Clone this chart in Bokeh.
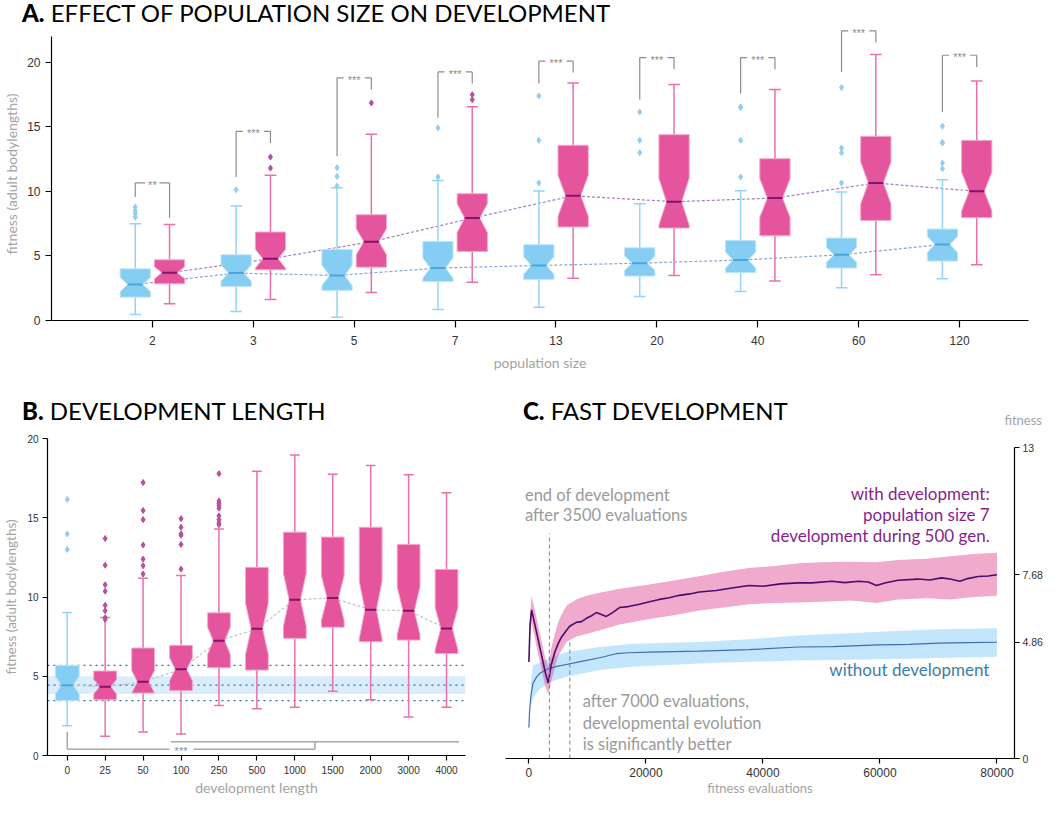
from bokeh.plotting import figure
from bokeh.models import Range1d, FixedTicker, Span, BoxAnnotation, Div
from bokeh.layouts import column, row
from bokeh.embed import file_html
from bokeh.resources import INLINE
from bokeh.core.properties import value

FONT = "Lato"
TICKFONT = "Liberation Sans"

# ---------------- Panel A data ----------------
pop_sizes = ["2", "3", "5", "7", "13", "20", "40", "60", "120"]
a_blue_wlo = [0.47, 0.70, 0.26, 0.85, 1.03, 1.86, 2.25, 2.53, 3.23]
a_blue_q1 = [1.81, 2.64, 2.33, 3.02, 3.18, 3.44, 3.70, 4.06, 4.60]
a_blue_med = [2.79, 3.67, 3.49, 4.06, 4.26, 4.44, 4.68, 5.09, 5.89]
a_blue_q3 = [4.00, 5.09, 5.50, 6.12, 5.87, 5.63, 6.20, 6.38, 7.08]
a_blue_whi = [7.49, 8.86, 10.28, 10.85, 10.03, 9.04, 10.05, 9.95, 10.90]
a_blue_out = [[8.00, 8.27, 8.48, 8.79], [10.13], [10.41, 11.16, 11.83], [11.11, 14.91],
              [10.65, 13.95, 17.39], [13.00, 13.95, 16.15], [11.11, 13.95, 16.49, 16.54],
              [10.65, 13.00, 13.36, 18.04], [11.76, 12.20, 13.75, 13.80, 15.04]]
a_pink_wlo = [1.29, 1.63, 2.17, 2.97, 3.28, 3.49, 3.05, 3.54, 4.32]
a_pink_q1 = [2.84, 3.93, 4.13, 5.35, 7.24, 7.16, 6.56, 7.75, 7.96]
a_pink_med = [3.70, 4.78, 6.10, 7.93, 9.66, 9.20, 9.48, 10.65, 10.00]
a_pink_q3 = [4.70, 6.85, 8.19, 9.82, 13.57, 14.39, 12.53, 14.26, 13.95]
a_pink_whi = [7.44, 11.24, 14.42, 16.56, 18.40, 18.27, 17.88, 20.59, 18.55]
a_pink_out = [[], [11.80, 12.66], [16.85], [17.10, 17.49], [], [], [], [], []]
a_sig_labels = ["**", "***", "***", "***", "***", "***", "***", "***", "***"]
a_sig_height = [10.65, 14.65, 18.79, 19.25, 20.08, 20.36, 20.36, 22.43, 20.54]
a_sig_left_end = [9.56, 11.11, 12.71, 15.71, 18.35, 17.10, 17.57, 19.25, 16.15]
a_sig_right_end = [7.96, 13.75, 17.88, 18.35, 19.20, 19.46, 19.46, 21.52, 19.64]

# ---------------- Panel B data ----------------
dev_lengths = ["0", "25", "50", "100", "250", "500", "1000", "1500", "2000", "3000", "4000"]
b_wlo = [1.87, 1.22, 1.49, 1.35, 3.15, 2.95, 3.05, 4.05, 3.51, 2.43, 3.05]
b_q1 = [3.46, 3.51, 3.94, 4.09, 5.54, 5.39, 7.39, 8.09, 7.18, 7.28, 6.43]
b_med = [4.44, 4.34, 4.65, 5.44, 7.24, 7.99, 9.83, 9.94, 9.19, 9.13, 8.01]
b_q3 = [5.68, 5.33, 6.78, 6.95, 9.00, 11.87, 14.09, 13.78, 14.40, 13.32, 11.74]
b_whi = [9.02, 8.71, 11.18, 11.35, 14.29, 17.93, 18.96, 17.74, 18.30, 17.72, 16.58]
b_out = [[13.00, 13.98, 16.16],
         [8.59, 8.69, 9.13, 9.48, 10.37, 10.77, 12.01, 13.69],
         [11.45, 11.97, 12.39, 13.28, 14.88, 15.46, 17.22],
         [11.76, 13.32, 13.90, 13.98, 14.40, 14.94],
         [14.56, 14.67, 14.88, 15.12, 15.60, 15.77, 15.91, 16.06, 17.78],
         [], [], [], [], [], []]
b_sig_label = "***"
b_sig_low_y = 0.39
b_sig_start_y = 1.49
b_sig_high_y = 0.87
b_sig_mid_x = 6.53
b_sig_upper_from = 2.73
b_sig_upper_to = 10.33
b_sig_text_x = 3.0

# ---------------- Panel C data ----------------
c_dev_x = [0, 200, 460, 1200, 2000, 2800, 3300, 3800, 4430, 5000, 5560, 6400, 6980, 8100, 9000,
           9820, 10800, 11520, 12400, 13230, 14300, 15490, 17000, 18900, 20600, 22300, 24000,
           25700, 27500, 29100, 32000, 34700, 37600, 40000, 43000, 46100, 48400, 51800, 54000,
           56300, 58000, 59400, 61000, 63100, 66500, 68500, 70500, 72000, 73650, 75000, 76800,
           78500, 80000]
c_dev_mean = [4.04, 5.60, 6.21, 5.40, 4.50, 3.60, 3.15, 3.90, 4.45, 4.80, 5.07, 5.35, 5.53, 5.69, 5.72,
              5.86, 5.98, 6.10, 6.02, 5.94, 6.10, 6.31, 6.35, 6.45, 6.55, 6.65, 6.72,
              6.82, 6.88, 6.96, 7.02, 7.13, 7.23, 7.20, 7.30, 7.34, 7.34, 7.41, 7.35,
              7.41, 7.38, 7.23, 7.35, 7.45, 7.50, 7.46, 7.55, 7.50, 7.41, 7.52, 7.61,
              7.63, 7.68]
c_dev_band_x = [0, 200, 460, 1200, 2000, 2800, 3300, 3800, 4430, 5000, 5560, 6400, 8100, 9820,
                12100, 15490, 20600, 25000, 29100, 33000, 37600, 42000, 46100, 50000, 55000,
                59400, 63100, 68000, 72000, 76000, 80000]
c_dev_upper = [4.30, 6.00, 6.80, 6.00, 5.10, 4.20, 3.80, 4.60, 5.20, 5.70, 6.00, 6.39, 6.65, 6.80,
               6.93, 7.10, 7.27, 7.45, 7.62, 7.80, 7.96, 8.05, 8.16, 8.20, 8.22,
               8.20, 8.30, 8.35, 8.45, 8.55, 8.60]
c_dev_lower = [3.80, 5.20, 5.70, 4.80, 3.90, 3.00, 2.70, 3.20, 3.80, 4.30, 4.50, 4.87, 5.10, 5.20,
               5.36, 5.60, 5.83, 6.00, 6.19, 6.30, 6.45, 6.50, 6.52, 6.55, 6.60,
               6.50, 6.65, 6.70, 6.65, 6.75, 6.80]
c_nodev_x = [0, 100, 300, 700, 1300, 1870, 2700, 3570, 5000, 6400, 9200, 12100, 14900, 17000,
             20600, 29100, 37600, 46100, 52000, 59700, 65000, 70000, 75000, 80000]
c_nodev_mean = [1.29, 1.90, 2.53, 3.15, 3.40, 3.56, 3.68, 3.77, 3.86, 3.93, 4.07, 4.21, 4.38, 4.42,
                4.45, 4.49, 4.55, 4.66, 4.68, 4.75, 4.77, 4.82, 4.84, 4.86]
c_nodev_band_x = [300, 700, 1870, 3570, 6400, 12100, 17700, 29100, 37600, 46100, 60000, 70000, 80000]
c_nodev_upper = [3.10, 3.90, 4.00, 4.20, 4.45, 4.66, 4.80, 4.87, 4.98, 5.14, 5.30, 5.40, 5.44]
c_nodev_lower = [2.10, 2.53, 2.90, 3.20, 3.42, 3.70, 3.84, 3.97, 4.04, 4.10, 4.15, 4.20, 4.25]
c_end_dev = 3500
c_end_dev_top = 9.4
c_signif = 7000
c_signif_top = 4.95
c_right_ticks = [0, 4.86, 7.68, 13]
c_x_ticks = [0, 20000, 40000, 60000, 80000]

# ---------------- styles ----------------
BLUE = "#86cdf3"
BLUE_EDGE = "#bfe6f8"
BLUE_MED = "#4da5da"
BLUE_WHISK = "#95d5f3"
BLUE_OUT = "#8fcff0"
PINK = "#e4559e"
PINK_EDGE = "#f2a9cb"
PINK_MED = "#86136b"
PINK_WHISK = "#ea6fad"
PINK_OUT = "#b6509f"
NOTCH_K = 0.25


def style_axis(ax, tick_fs, label_fs, tick_out, standoff, label_standoff):
    ax.axis_line_color = "black"
    ax.axis_line_width = 1.2
    ax.major_tick_line_color = "black"
    ax.major_tick_line_width = 1.2
    ax.major_tick_out = tick_out
    ax.major_tick_in = 0
    ax.minor_tick_line_color = None
    ax.major_label_text_font = TICKFONT
    ax.major_label_text_font_size = tick_fs
    ax.major_label_text_color = "#333333"
    ax.major_label_standoff = standoff
    ax.axis_label_text_font = FONT
    ax.axis_label_text_font_size = label_fs
    ax.axis_label_text_color = "#a3a3a3"
    ax.axis_label_text_font_style = "normal"
    ax.axis_label_standoff = label_standoff


def clean(p):
    p.outline_line_color = None
    p.xgrid.grid_line_color = None
    p.ygrid.grid_line_color = None
    p.background_fill_color = "white"
    p.border_fill_color = "white"


def draw_boxes(p, xpos, w, cap_w, wlo, q1, med, q3, whi, outs, fill, edge, medc, whisk, outc):
    xs_all, ys_all = [], []
    for i, xc in enumerate(xpos):
        half = NOTCH_K * (q3[i] - q1[i])
        lo = max(q1[i], med[i] - half)
        hi = min(q3[i], med[i] + half)
        xl, xr = xc - w / 2, xc + w / 2
        xi, xo = xc - w / 4, xc + w / 4
        xs_all.append([xl, xl, xi, xl, xl, xr, xr, xo, xr, xr])
        ys_all.append([q1[i], lo, med[i], hi, q3[i], q3[i], hi, med[i], lo, q1[i]])
    p.segment(x0=xpos, y0=q3, x1=xpos, y1=whi, line_color=whisk, line_width=1.5)
    p.segment(x0=xpos, y0=wlo, x1=xpos, y1=q1, line_color=whisk, line_width=1.5)
    cl = [x - cap_w / 2 for x in xpos]
    cr = [x + cap_w / 2 for x in xpos]
    p.segment(x0=cl, y0=whi, x1=cr, y1=whi, line_color=whisk, line_width=1.5)
    p.segment(x0=cl, y0=wlo, x1=cr, y1=wlo, line_color=whisk, line_width=1.5)
    p.patches(xs_all, ys_all, fill_color=fill, line_color=edge, line_width=1)
    p.segment(x0=[x - w / 4 for x in xpos], y0=med, x1=[x + w / 4 for x in xpos], y1=med,
              line_color=medc, line_width=2)
    ox = [xpos[i] for i, o in enumerate(outs) for _ in o]
    oy = [v for o in outs for v in o]
    if ox:
        p.scatter(ox, oy, marker="diamond", size=6, fill_color=outc, line_color=outc)


def title_div(letter, rest, width, height, left, top, extra=""):
    html = (
        f'<div style="position:relative;width:{width}px;height:{height}px;font-family:Lato;">'
        f'<div style="position:absolute;left:{left}px;top:{top}px;font-size:24px;line-height:26px;'
        f'white-space:nowrap;color:#000;"><span style="font-weight:900;">{letter}</span> {rest}</div>'
        f'{extra}</div>'
    )
    return Div(text=html, width=width, height=height, margin=0)


# ================= Panel A =================
pA = figure(width=1045, height=350, x_range=Range1d(0, 9.683), y_range=Range1d(0, 22.69),
            output_backend="svg", toolbar_location=None,
            min_border_left=50, min_border_right=17, min_border_top=1, min_border_bottom=56)
clean(pA)
cats_a = list(range(1, len(pop_sizes) + 1))
xa_blue = [c - 0.17 for c in cats_a]
xa_pink = [c + 0.17 for c in cats_a]

pA.line(xa_pink, a_pink_med, line_color="#a77cc4", line_dash="3 2", line_width=1.2)
pA.line(xa_blue, a_blue_med, line_color="#8aa6d6", line_dash="3 2", line_width=1.2)
draw_boxes(pA, xa_blue, 0.3, 0.115, a_blue_wlo, a_blue_q1, a_blue_med, a_blue_q3, a_blue_whi,
           a_blue_out, BLUE, BLUE_EDGE, BLUE_MED, BLUE_WHISK, BLUE_OUT)
draw_boxes(pA, xa_pink, 0.3, 0.115, a_pink_wlo, a_pink_q1, a_pink_med, a_pink_q3, a_pink_whi,
           a_pink_out, PINK, PINK_EDGE, PINK_MED, PINK_WHISK, PINK_OUT)

sx0, sy0, sx1, sy1 = [], [], [], []
for i, c in enumerate(cats_a):
    xl, xr = xa_blue[i], xa_pink[i]
    h = a_sig_height[i]
    gap = 0.035 * len(a_sig_labels[i])
    sx0 += [xl, xl, c + gap, xr]
    sy0 += [a_sig_left_end[i], h, h, h]
    sx1 += [xl, c - gap, xr, xr]
    sy1 += [h, h, h, a_sig_right_end[i]]
pA.segment(x0=sx0, y0=sy0, x1=sx1, y1=sy1, line_color="#8c8c8c", line_width=1.2)
pA.text(x=cats_a, y=a_sig_height, text=a_sig_labels, text_align="center", text_baseline="middle",
        y_offset=2, text_font=value(TICKFONT), text_font_size="11px", text_color="#8c8c8c")

pA.xaxis.ticker = FixedTicker(ticks=cats_a)
pA.xaxis.major_label_overrides = {c: s for c, s in zip(cats_a, pop_sizes)}
pA.yaxis.ticker = FixedTicker(ticks=[0, 5, 10, 15, 20])
pA.yaxis.bounds = (0, 22)
pA.xaxis.axis_label = "population size"
pA.yaxis.axis_label = "fitness (adult bodylengths)"
style_axis(pA.xaxis[0], "12px", "14px", 7, 8, 6)
style_axis(pA.yaxis[0], "12px", "14px", 6, 5, 4)

# ================= Panel B =================
pB = figure(width=482, height=370, x_range=Range1d(-0.52, 10.5), y_range=Range1d(0, 20),
            output_backend="svg", toolbar_location=None,
            min_border_left=46, min_border_right=17, min_border_top=10, min_border_bottom=40)
clean(pB)
cats_b = list(range(len(dev_lengths)))
notch_half0 = NOTCH_K * (b_q3[0] - b_q1[0])
pB.add_layout(BoxAnnotation(bottom=b_med[0] - notch_half0, top=b_med[0] + notch_half0,
                            fill_color="#d9eefa", fill_alpha=1.0, line_color=None, level="underlay"))
for yv in [b_q1[0], b_med[0], b_q3[0]]:
    pB.add_layout(Span(location=yv, dimension="width", line_color="#2f6cb6", line_dash="dotted",
                       line_width=1.2, level="underlay"))
pB.line(cats_b, b_med, line_color="#c4c4c4", line_dash="3 2", line_width=1.2)
draw_boxes(pB, cats_b[:1], 0.63, 0.26, b_wlo[:1], b_q1[:1], b_med[:1], b_q3[:1], b_whi[:1],
           b_out[:1], BLUE, BLUE_EDGE, BLUE_MED, BLUE_WHISK, BLUE_OUT)
draw_boxes(pB, cats_b[1:], 0.6, 0.26, b_wlo[1:], b_q1[1:], b_med[1:], b_q3[1:], b_whi[1:],
           b_out[1:], PINK, PINK_EDGE, PINK_MED, PINK_WHISK, PINK_OUT)
pB.segment(x0=[cats_b[0], cats_b[0], b_sig_text_x + 0.33, b_sig_mid_x, b_sig_upper_from],
           y0=[b_sig_start_y, b_sig_low_y, b_sig_low_y, b_sig_low_y, b_sig_high_y],
           x1=[cats_b[0], b_sig_text_x - 0.3, b_sig_mid_x, b_sig_mid_x, b_sig_upper_to],
           y1=[b_sig_low_y, b_sig_low_y, b_sig_low_y, b_sig_high_y, b_sig_high_y],
           line_color="#a8a8a8", line_width=1.5)
pB.text(x=[b_sig_text_x], y=[b_sig_low_y], text=[b_sig_label], text_align="center",
        text_baseline="middle", y_offset=2, text_font=value(TICKFONT), text_font_size="11px",
        text_color="#8c8c8c")
pB.xaxis.ticker = FixedTicker(ticks=cats_b)
pB.xaxis.major_label_overrides = {c: s for c, s in zip(cats_b, dev_lengths)}
pB.yaxis.ticker = FixedTicker(ticks=[0, 5, 10, 15, 20])
pB.xaxis.axis_label = "development length"
pB.yaxis.axis_label = "fitness (adult bodylengths)"
style_axis(pB.xaxis[0], "10px", "14px", 5, 5, 2)
style_axis(pB.yaxis[0], "10px", "13.5px", 5, 4, 5)

# ================= Panel C =================
pC = figure(width=563, height=370, x_range=Range1d(-4000, 83000), y_range=Range1d(0, 13),
            y_axis_location="right", output_backend="svg", toolbar_location=None,
            min_border_left=23, min_border_right=27, min_border_top=19, min_border_bottom=38)
clean(pC)
pC.varea(x=c_nodev_band_x, y1=c_nodev_lower, y2=c_nodev_upper, fill_color="#87cefa", fill_alpha=0.5)
pC.varea(x=c_dev_band_x, y1=c_dev_lower, y2=c_dev_upper, fill_color="#e0559c", fill_alpha=0.5)
pC.line(c_nodev_x, c_nodev_mean, line_color="#3d6fb0", line_width=1.2)
pC.line(c_dev_x, c_dev_mean, line_color="#4a0c6c", line_width=1.6)
pC.segment(x0=[c_end_dev, c_signif], y0=[0, 0], x1=[c_end_dev, c_signif],
           y1=[c_end_dev_top, c_signif_top], line_color="#808080", line_dash="4 3", line_width=1)

pC.text(x=[-680, -680], y=[11.02, 10.16], text=["end of development", "after 3500 evaluations"],
        text_align="left", text_baseline="middle", text_font=value(FONT), text_font_size="16.5px",
        text_color="#9a9a9a")
pC.text(x=[9190, 9190, 9190], y=[2.39, 1.48, 0.62],
        text=["after 7000 evaluations,", "developmental evolution", "is significantly better"],
        text_align="left", text_baseline="middle", text_font=value(FONT), text_font_size="16.5px",
        text_color="#9a9a9a")
pC.text(x=[78760, 78760, 78760], y=[11.08, 10.19, 9.33],
        text=["with development:", "population size 7", "development during 500 gen."],
        text_align="right", text_baseline="middle", text_font=value(FONT), text_font_size="17px",
        text_color="#8a1d8e")
pC.text(x=[78700], y=[3.71], text=["without development"], text_align="right",
        text_baseline="middle", text_font=value(FONT), text_font_size="17px", text_color="#3d7dac")

pC.xaxis.ticker = FixedTicker(ticks=c_x_ticks)
pC.xaxis.major_label_overrides = {v: str(v) for v in c_x_ticks}
pC.yaxis.ticker = FixedTicker(ticks=c_right_ticks)
pC.yaxis.major_label_overrides = {0: "0", 4.86: "4.86", 7.68: "7.68", 13: "13"}
pC.xaxis.axis_label = "fitness evaluations"
style_axis(pC.xaxis[0], "12px", "13px", 5, 4, 0)
style_axis(pC.yaxis[0], "10.5px", "12px", 5, 3, 2)

# ================= titles / layout =================
divA = title_div("A.", "EFFECT OF POPULATION SIZE ON DEVELOPMENT", 1045, 26, 22, 0)
divB = title_div("B.", "DEVELOPMENT LENGTH", 482, 52, 22, 22)
fit_lbl = ('<div style="position:absolute;right:3px;top:37px;font-size:13px;line-height:15px;'
           'color:#a3a3a3;white-space:nowrap;">fitness</div>')
divC = title_div("C.", "FAST DEVELOPMENT", 563, 52, 41, 22, fit_lbl)

layout = column(divA, pA, row(column(divB, pB), column(divC, pC)))
open("out.html", "w").write(file_html(layout, INLINE))
